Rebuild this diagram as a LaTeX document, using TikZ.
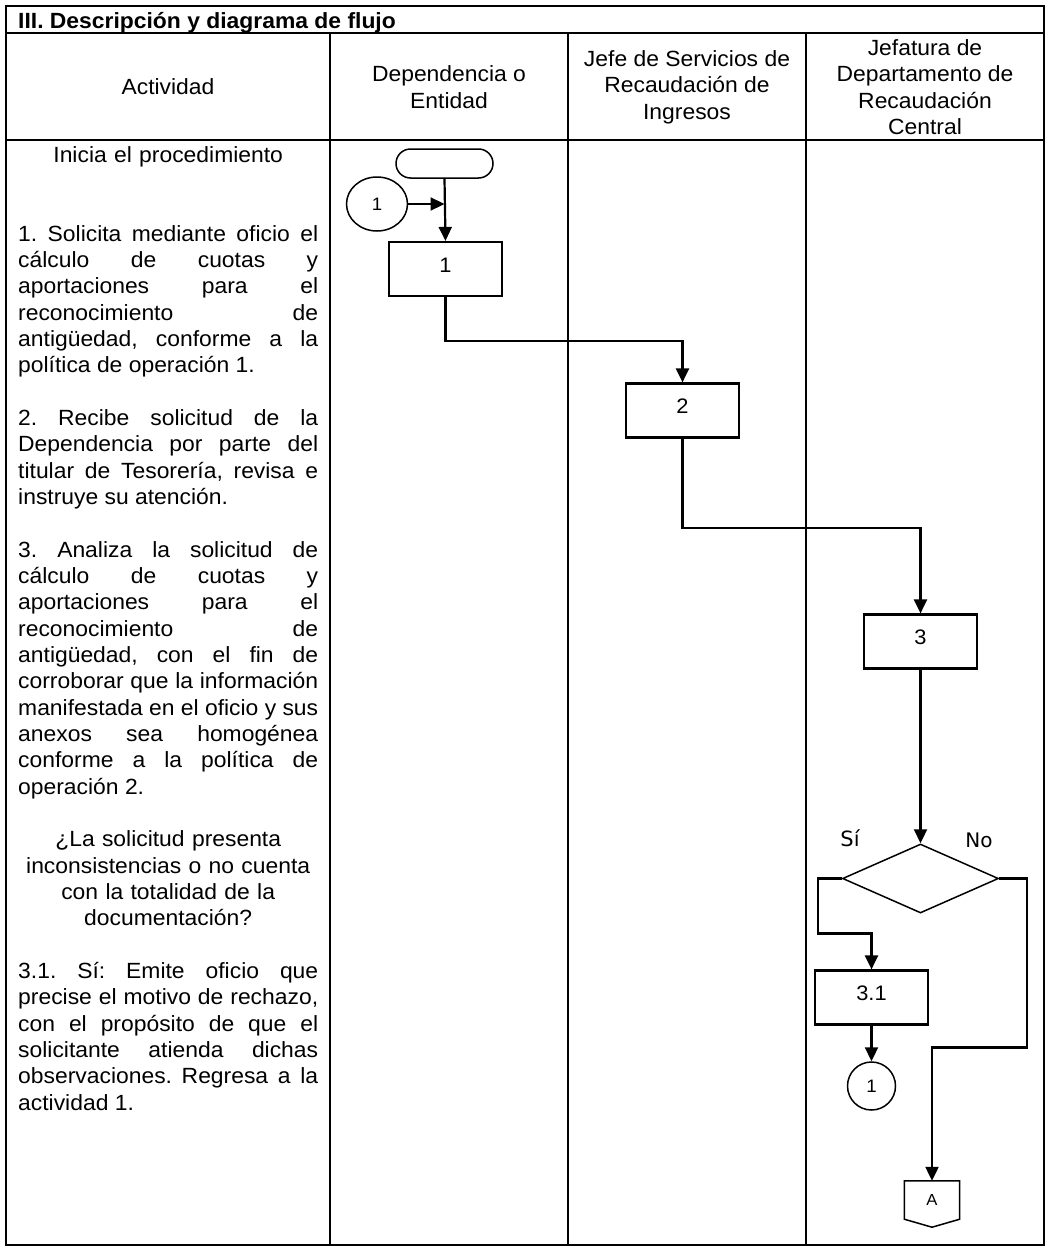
\documentclass[tikz,border=0pt]{standalone}
\usepackage{fontspec}
\setmainfont{Liberation Sans}[FakeStretch=1.04]
\newfontfamily\sinofont{DejaVu Sans}
\usepackage{tikz}
\usetikzlibrary{arrows.meta,shapes.geometric,calc}
\frenchspacing
\newcommand\cuerpo{\fontsize{22}{26.33}\selectfont\tolerance=10000\hyphenpenalty=10000}

\begin{document}
\begin{tikzpicture}[x=1pt, y=-1pt, font=\cuerpo,
  tabla/.style={line width=1.5pt},
  caja/.style={draw, line width=2.2pt, minimum width=113pt, minimum height=54pt,
    inner sep=0pt, text depth=8pt, font=\fontsize{21}{24}\selectfont},
  circulo/.style={draw, ellipse, line width=1.5pt, inner sep=0pt, font=\fontsize{18}{20}\selectfont},
  flecha/.style={line width=2.2pt, -{Triangle[length=14pt,width=13pt]}},
  txtj/.style={anchor=north west, inner sep=0pt, text width=300pt, align=justify},
  txtc/.style={anchor=north west, inner sep=0pt, text width=300pt, align=center}]
  \useasboundingbox (0,0) rectangle (1050,1250);
  % tabla
  \draw[tabla] (6,6) rectangle (1044,1245);
  \draw[tabla] (6,33) -- (1044,33) (6,140) -- (1044,140);
  \foreach \x in {330,568,806} {\draw[tabla] (\x,33) -- (\x,1245);}
  \node[anchor=base west, inner sep=0pt, font=\cuerpo\bfseries] (titulo) at (18,28)
    {III. Descripción y diagrama de flujo};
  \node[align=center] (hact) at (168,87) {Actividad};
  \node[align=center] (hdep) at (449,87) {Dependencia o\\Entidad};
  \node[align=center] (hjefe) at (687,87) {Jefe de Servicios de\\Recaudación de\\Ingresos};
  \node[align=center] (hjef) at (925,87) {Jefatura de\\Departamento de\\Recaudación\\Central};
  % descripcion
  \node[txtc] (t0) at (18,143.57) {\strut Inicia el procedimiento};
  \node[txtj] (t1) at (18,222.56) {\strut 1. Solicita mediante oficio el\linebreak
    cálculo de cuotas y\linebreak aportaciones para el\linebreak reconocimiento de\linebreak
    antigüedad, conforme a la\linebreak política de operación 1.};
  \node[txtj] (t2) at (18,406.87) {\strut 2. Recibe solicitud de la\linebreak
    Dependencia por parte del\linebreak titular de Tesorería, revisa e\linebreak
    instruye su atención.};
  \node[txtj] (t3) at (18,538.52) {\strut 3. Analiza la solicitud de\linebreak
    cálculo de cuotas y\linebreak aportaciones para el\linebreak reconocimiento de\linebreak
    antigüedad, con el fin de\linebreak corroborar que la información\linebreak
    manifestada en el oficio y sus\linebreak anexos sea homogénea\linebreak
    conforme a la política de\linebreak operación 2.};
  \node[txtc] (tq) at (18,828.15) {\strut ¿La solicitud presenta\\inconsistencias o no cuenta\\
    con la totalidad de la\\documentación?};
  \node[txtj] (t31) at (18,959.8) {\strut 3.1. Sí: Emite oficio que\linebreak
    precise el motivo de rechazo,\linebreak con el propósito de que el\linebreak
    solicitante atienda dichas\linebreak observaciones. Regresa a la\linebreak actividad 1.};
  % diagrama
  \node[draw, line width=1.5pt, rounded corners=14.5pt, minimum width=97pt, minimum height=29pt,
    inner sep=0pt] (ini) at (444.5,163.5) {};
  \node[circulo, minimum width=61pt, minimum height=54pt] (con1) at (377,204) {1};
  \node[caja] (a1) at (445.5,269) {1};
  \node[caja] (a2) at (682.5,410.5) {2};
  \node[caja] (a3) at (920.5,641.5) {3};
  \node[draw, diamond, line width=1.5pt, minimum width=156pt, minimum height=69pt,
    inner sep=0pt] (dec) at (920.5,878.5) {};
  \node[font=\sinofont\fontsize{21}{24}\selectfont] (si) at (850,838) {Sí};
  \node[font=\sinofont\fontsize{20}{24}\selectfont] (no) at (979,840) {No};
  \node[caja] (a31) at (871.5,997.5) {3.1};
  \node[circulo, minimum width=48pt, minimum height=48pt] (con1b) at (871.5,1086) {1};
  \node[minimum width=55pt, minimum height=38pt, inner sep=0pt,
    font=\fontsize{16}{18}\selectfont] (offA) at (932,1200) {A};
  \draw[line width=1.5pt] (offA.north west) -- (offA.north east) -- (offA.south east)
    -- ($(offA.south)+(0,8)$) -- (offA.south west) -- cycle;
  \draw[flecha] (ini.south) -- (a1.north);
  \draw[flecha] (con1.east) -- (con1.east -| ini.south);
  \draw[flecha] (a1.south) -- ++(0,44) -| (a2.north);
  \draw[flecha] (a2.south) -- ++(0,89) -| (a3.north);
  \draw[flecha] (a3.south) -- (dec.north);
  \draw[flecha] (dec.west) -- ++(-24,0) -- ++(0,55) -| (a31.north);
  \draw[flecha] (a31.south) -- (con1b.north);
  \draw[flecha] (dec.east) -- ++(28,0) -- ++(0,169) -| (offA.north);
\end{tikzpicture}
\end{document}
